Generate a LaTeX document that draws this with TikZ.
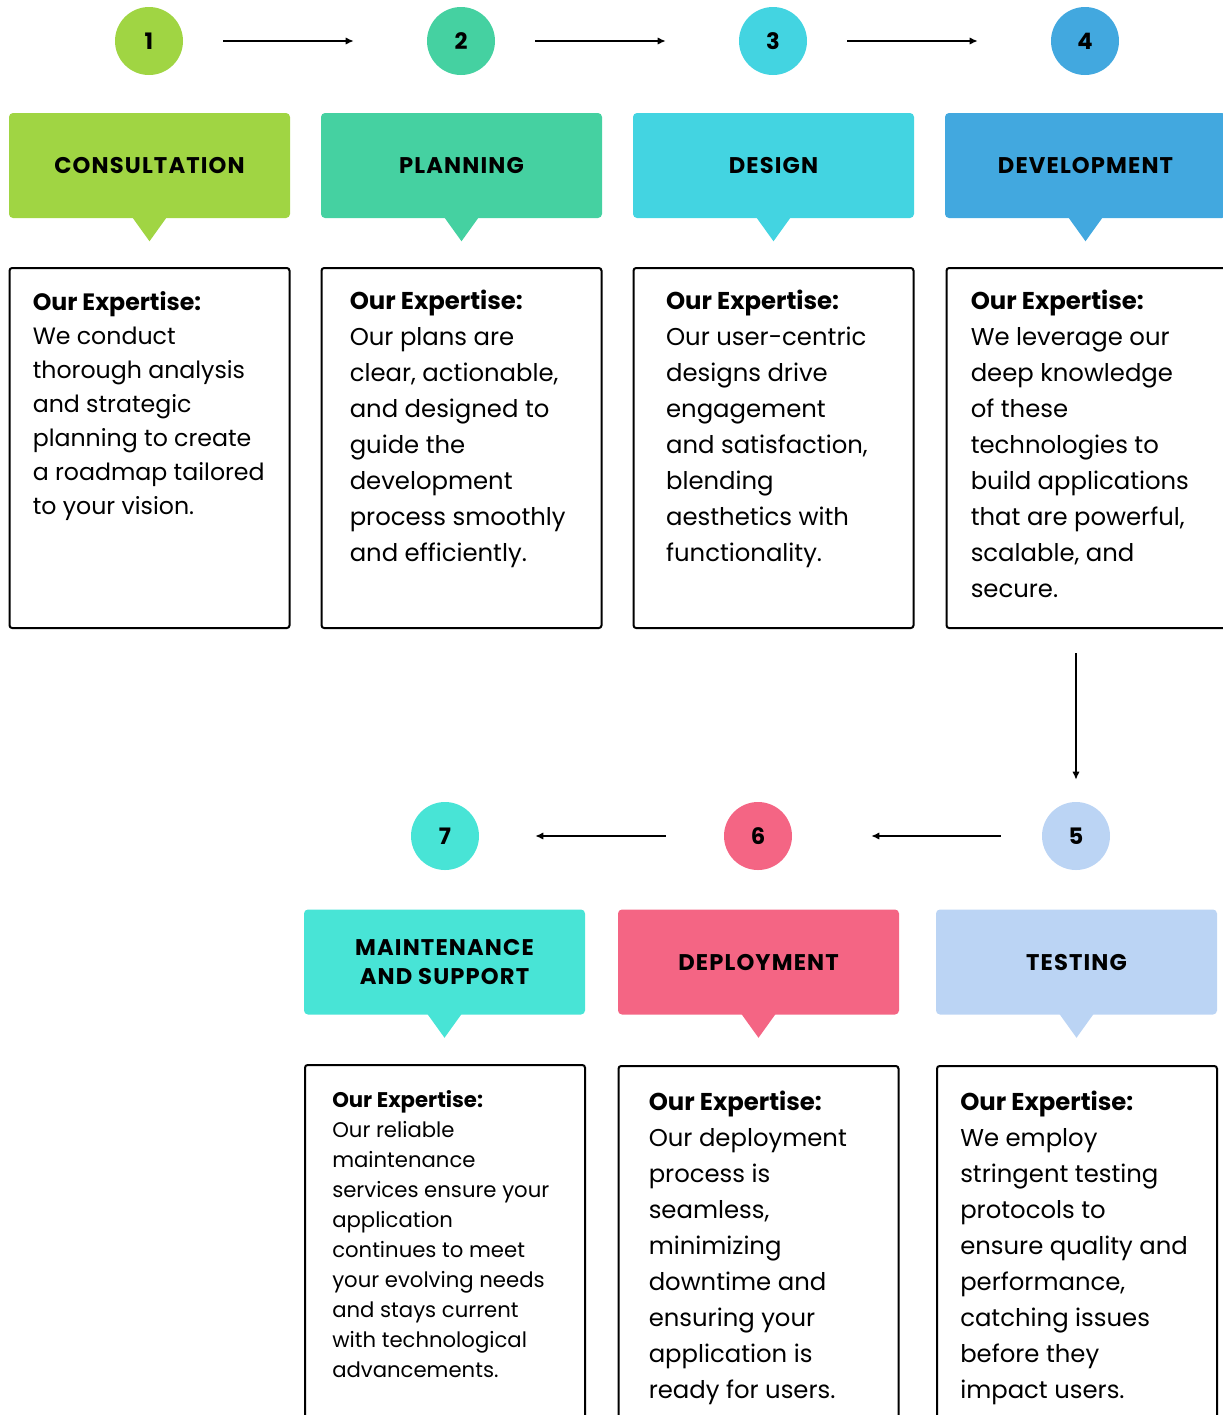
\documentclass[tikz,border=0pt]{standalone}
\usepackage{fontspec}
\setmainfont{Poppins}
\newfontfamily\headfont[LetterSpace=5]{Poppins}
\usepackage{tikz}
\usetikzlibrary{arrows.meta,positioning}
\usepackage{xcolor}

\definecolor{consultgreen}{HTML}{A0D543}
\definecolor{planteal}{HTML}{45D1A1}
\definecolor{designcyan}{HTML}{43D4E1}
\definecolor{devblue}{HTML}{42A8DF}
\definecolor{testblue}{HTML}{BBD4F4}
\definecolor{deploypink}{HTML}{F46584}
\definecolor{maintaqua}{HTML}{48E4D6}

\tikzset{
    stagenum/.style={circle, minimum size=51pt, inner sep=0pt, font=\bfseries\fontsize{17}{17}\selectfont},
    stagehead/.style={rectangle, rounded corners=3pt, minimum width=210.75pt, minimum height=78.75pt, align=center, font=\headfont\bfseries\fontsize{17}{21.75}\selectfont},
    descbox/.style={draw, line width=1.5pt, rounded corners=2pt, minimum width=210pt, minimum height=270pt, inner sep=0pt},
    desctext/.style={anchor=north west, inner sep=0pt, align=left, font=\fontsize{18.25}{27}\selectfont},
    flow/.style={-{Latex[length=6pt,width=5.5pt]}, line width=1.1pt}
}

\begin{document}
\begin{tikzpicture}[x=0.75pt, y=-0.75pt]
    \clip (0,0) rectangle (1223,1415);

    % numbered circles
    \node[stagenum, fill=consultgreen] (n1) at (149,41) {1};
    \node[stagenum, fill=planteal] (n2) at (461,41) {2};
    \node[stagenum, fill=designcyan] (n3) at (773,41) {3};
    \node[stagenum, fill=devblue] (n4) at (1085,41) {4};
    \node[stagenum, fill=testblue] (n5) at (1076,836) {5};
    \node[stagenum, fill=deploypink] (n6) at (758,836) {6};
    \node[stagenum, fill=maintaqua] (n7) at (445,836) {7};

    % stage headers
    \node[stagehead, fill=consultgreen] (h1) at (149.5,165.5) {CONSULTATION};
    \node[stagehead, fill=planteal] (h2) at (461.5,165.5) {PLANNING};
    \node[stagehead, fill=designcyan] (h3) at (773.5,165.5) {DESIGN};
    \node[stagehead, fill=devblue] (h4) at (1085.5,165.5) {DEVELOPMENT};
    \node[stagehead, fill=testblue] (h5) at (1076.5,962) {TESTING};
    \node[stagehead, fill=deploypink] (h6) at (758.5,962) {DEPLOYMENT};
    \node[stagehead, fill=maintaqua] (h7) at (444.5,962) {MAINTENANCE\\AND SUPPORT};

    \foreach \h/\c in {h1/consultgreen, h2/planteal, h3/designcyan, h4/devblue, h5/testblue, h6/deploypink, h7/maintaqua}
        \fill[\c] ([xshift=-12.75pt, yshift=0.5pt]\h.south) -- ([yshift=-17.25pt]\h.south) -- ([xshift=12.75pt, yshift=0.5pt]\h.south) -- cycle;

    % description boxes
    \node[descbox] (d1) at (149.5,448) {};
    \node[descbox] (d2) at (461.5,448) {};
    \node[descbox] (d3) at (773.5,448) {};
    \node[descbox] (d4) at (1086.5,448) {};
    \node[descbox] (d5) at (1077,1246) {};
    \node[descbox] (d6) at (758.5,1246) {};
    \node[descbox] (d7) at (445,1245) {};

    \node[desctext, font=\fontsize{17.75}{25.5}\selectfont] (t1) at ([xshift=18pt, yshift=-18pt]d1.north west)
        {\textbf{Our Expertise:}\\We conduct\\thorough analysis\\and strategic\\planning to create\\a roadmap tailored\\to your vision.};
    \node[desctext] (t2) at ([xshift=21.75pt, yshift=-17pt]d2.north west)
        {\textbf{Our Expertise:}\\Our plans are\\clear, actionable,\\and designed to\\guide the\\development\\process smoothly\\and efficiently.};
    \node[desctext] (t3) at ([xshift=25pt, yshift=-17pt]d3.north west)
        {\textbf{Our Expertise:}\\Our user-centric\\designs drive\\engagement\\and satisfaction,\\blending\\aesthetics with\\functionality.};
    \node[desctext] (t4) at ([xshift=18.75pt, yshift=-17pt]d4.north west)
        {\textbf{Our Expertise:}\\We leverage our\\deep knowledge\\of these\\technologies to\\build applications\\that are powerful,\\scalable, and\\secure.};
    \node[desctext] (t5) at ([xshift=18pt, yshift=-19pt]d5.north west)
        {\textbf{Our Expertise:}\\We employ\\stringent testing\\protocols to\\ensure quality and\\performance,\\catching issues\\before they\\impact users.};
    \node[desctext] (t6) at ([xshift=23.25pt, yshift=-19pt]d6.north west)
        {\textbf{Our Expertise:}\\Our deployment\\process is\\seamless,\\minimizing\\downtime and\\ensuring your\\application is\\ready for users.};
    \node[desctext, font=\fontsize{15.9}{22.5}\selectfont] (t7) at ([xshift=21pt, yshift=-19.5pt]d7.north west)
        {\textbf{Our Expertise:}\\Our reliable\\maintenance\\services ensure your\\application\\continues to meet\\your evolving needs\\and stays current\\with technological\\advancements.};

    % flow between stages
    \draw[flow, shorten <=30pt, shorten >=54.75pt] (n1) -- (n2);
    \draw[flow, shorten <=30pt, shorten >=54.75pt] (n2) -- (n3);
    \draw[flow, shorten <=30pt, shorten >=54.75pt] (n3) -- (n4);
    \draw[flow, shorten <=18pt, shorten >=16.5pt] (n5 |- d4.south) -- (n5.north);
    \draw[flow, shorten <=30.75pt, shorten >=59.25pt] (n5) -- (n6);
    \draw[flow, shorten <=43.5pt, shorten >=42pt] (n6) -- (n7);
\end{tikzpicture}
\end{document}
